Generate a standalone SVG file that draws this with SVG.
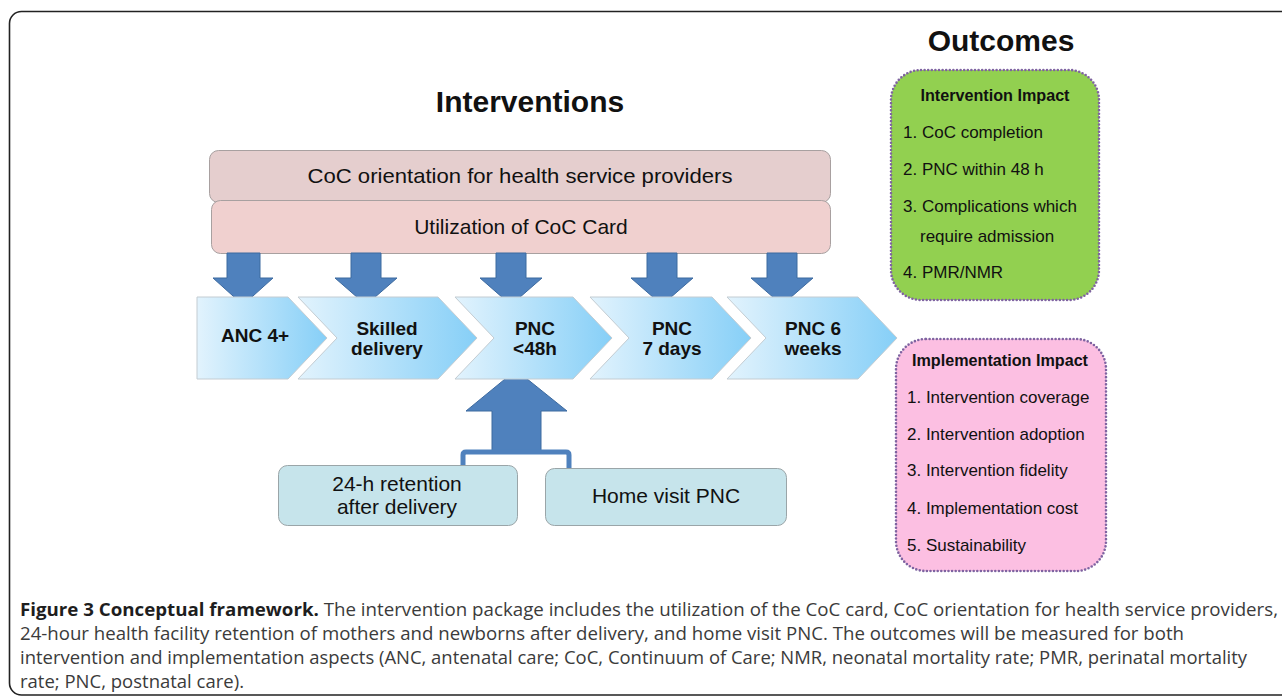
<svg xmlns="http://www.w3.org/2000/svg" width="1282" height="696" viewBox="0 0 1282 696">
<defs>
<linearGradient id="chev" x1="0" y1="0" x2="1" y2="0">
<stop offset="0" stop-color="#e2f3fd"/>
<stop offset="1" stop-color="#86cff7"/>
</linearGradient>
</defs>
<style>
text{font-family:"Liberation Sans",Arial,sans-serif;fill:#111}
.title{font-size:30px;font-weight:bold;text-anchor:middle}
.bar{stroke:#a8a0a0;stroke-width:1}
.barT{font-size:21px;text-anchor:middle}
.chev{fill:url(#chev);stroke:#c3ccd2;stroke-width:1}
.chevT{font-size:19px;font-weight:bold;text-anchor:middle}
.arr{fill:#4f81bd;stroke:#3d6a9f;stroke-width:1}
.sub{fill:#c6e4eb;stroke:#9aa5a8;stroke-width:1}
.subT{font-size:21px;text-anchor:middle}
.out{stroke:#7f63a1;stroke-width:2.6;stroke-dasharray:0 3.6;stroke-linecap:round}
.outH{font-size:16px;font-weight:bold;text-anchor:middle}
.outI{font-size:17px}
.cap{font-family:"Open Sans","Noto Sans",sans-serif;font-size:18px;fill:#3b3b3b}
</style>
<rect x="9.5" y="11.5" width="1300" height="683.5" rx="12" fill="none" stroke="#222" stroke-width="1.6"/>
<g id="title-interventions"><text class="title" x="530" y="112">Interventions</text></g>
<g id="title-outcomes"><text class="title" x="1001" y="51">Outcomes</text></g>
<g id="coc-orientation">
<rect class="bar" x="209.5" y="150.5" width="621" height="52" rx="9" fill="#e5cece"/>
<text class="barT" x="520" y="183" textLength="425" lengthAdjust="spacingAndGlyphs">CoC  orientation for health service providers</text>
</g>
<g id="coc-card">
<rect class="bar" x="211.5" y="200.5" width="619" height="53" rx="9" fill="#f0d0cf"/>
<text class="barT" x="521" y="234">Utilization of CoC Card</text>
</g>
<g id="connectors">
<path class="arr" d="M227,253 H260 V278 H273 L243,305 L213,278 H227 Z"/>
<path class="arr" d="M351,253 H381 V278 H397 L366,305 L335,278 H351 Z"/>
<path class="arr" d="M496,253 H526 V278 H542 L511,305 L480,278 H496 Z"/>
<path class="arr" d="M647,253 H677 V278 H693 L662,305 L631,278 H647 Z"/>
<path class="arr" d="M767,253 H797 V278 H813 L782,305 L751,278 H767 Z"/>
<path class="arr" d="M492,452 V411 H466 L516,370 L567,411 H541 V452 Z"/>
<path d="M463,467 V455 Q463,452 466,452 H566 Q569,452 569,455 V469" fill="none" stroke="#4f81bd" stroke-width="5"/>
</g>
<g id="anc">
<path class="chev" d="M197,297 H288 L327,338 L288,379 H197 Z"/>
<text class="chevT" x="255" y="342">ANC 4+</text>
</g>
<g id="skilled-delivery">
<path class="chev" d="M298,297 H438 L477,338 L438,379 H298 L337,338 Z"/>
<text class="chevT" x="387" y="335">Skilled</text>
<text class="chevT" x="387" y="355">delivery</text>
</g>
<g id="pnc-48h">
<path class="chev" d="M455,297 H573 L612,338 L573,379 H455 L494,338 Z"/>
<text class="chevT" x="535" y="335">PNC</text>
<text class="chevT" x="535" y="355">&lt;48h</text>
</g>
<g id="pnc-7days">
<path class="chev" d="M590,297 H712 L751,338 L712,379 H590 L629,338 Z"/>
<text class="chevT" x="672" y="335">PNC</text>
<text class="chevT" x="672" y="355">7 days</text>
</g>
<g id="pnc-6weeks">
<path class="chev" d="M727,297 H858 L897,338 L858,379 H727 L766,338 Z"/>
<text class="chevT" x="813" y="335">PNC  6</text>
<text class="chevT" x="813" y="355">weeks</text>
</g>
<g id="retention">
<rect class="sub" x="278.5" y="465.5" width="239" height="60" rx="9"/>
<text class="subT" x="397" y="491">24-h retention</text>
<text class="subT" x="397" y="514">after delivery</text>
</g>
<g id="home-visit">
<rect class="sub" x="545.5" y="468.5" width="241" height="57" rx="9"/>
<text class="subT" x="666" y="503">Home visit PNC</text>
</g>
<g id="intervention-impact">
<rect class="out" x="891" y="70" width="208" height="230" rx="30" fill="#92d050"/>
<text class="outH" x="995" y="101" textLength="149" lengthAdjust="spacingAndGlyphs">Intervention Impact</text>
<text class="outI" x="903" y="138">1. CoC completion</text>
<text class="outI" x="903" y="175">2. PNC within 48 h</text>
<text class="outI" x="903" y="212">3. Complications which</text>
<text class="outI" x="920" y="242">require admission</text>
<text class="outI" x="903" y="278">4. PMR/NMR</text>
</g>
<g id="implementation-impact">
<rect class="out" x="896" y="339" width="210" height="232" rx="30" fill="#fcbfe2"/>
<text class="outH" x="1000" y="366" textLength="176" lengthAdjust="spacingAndGlyphs">Implementation Impact</text>
<text class="outI" x="907" y="403">1. Intervention coverage</text>
<text class="outI" x="907" y="440">2. Intervention adoption</text>
<text class="outI" x="907" y="476">3. Intervention fidelity</text>
<text class="outI" x="907" y="514">4. Implementation cost</text>
<text class="outI" x="907" y="551">5. Sustainability</text>
</g>
<g id="caption">
<text class="cap" x="20" y="616" textLength="1258" lengthAdjust="spacingAndGlyphs"><tspan font-weight="bold" fill="#1e1e1e">Figure 3 Conceptual framework.</tspan> The intervention package includes the utilization of the CoC card, CoC orientation for health service providers,</text>
<text class="cap" x="20" y="640" textLength="1164" lengthAdjust="spacingAndGlyphs">24-hour health facility retention of mothers and newborns after delivery, and home visit PNC. The outcomes will be measured for both</text>
<text class="cap" x="20" y="664" textLength="1227" lengthAdjust="spacingAndGlyphs">intervention and implementation aspects (ANC, antenatal care; CoC, Continuum of Care; NMR, neonatal mortality rate; PMR, perinatal mortality</text>
<text class="cap" x="20" y="688" textLength="224" lengthAdjust="spacingAndGlyphs">rate; PNC, postnatal care).</text>
</g>
</svg>
